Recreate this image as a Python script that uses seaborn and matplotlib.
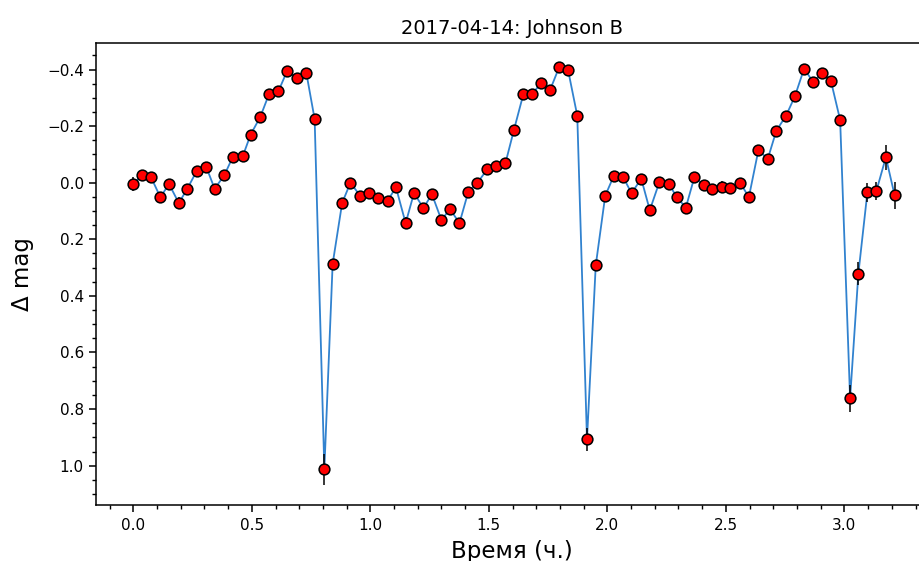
import numpy as np
import pandas as pd
import matplotlib
matplotlib.use("Agg")
import matplotlib.pyplot as plt
import seaborn as sns
from matplotlib.ticker import MultipleLocator

# ---- data ----
time_h = [0.000, 0.038, 0.075, 0.114, 0.151, 0.192, 0.228, 0.268, 0.308, 0.343,
          0.384, 0.419, 0.462, 0.495, 0.536, 0.573, 0.612, 0.649, 0.689, 0.730,
          0.765, 0.806, 0.841, 0.881, 0.916, 0.957, 0.993, 1.032, 1.073, 1.108,
          1.149, 1.184, 1.224, 1.260, 1.300, 1.336, 1.376, 1.413, 1.452, 1.493,
          1.530, 1.570, 1.606, 1.646, 1.682, 1.722, 1.758, 1.797, 1.834, 1.873,
          1.914, 1.951, 1.991, 2.026, 2.067, 2.102, 2.143, 2.179, 2.219, 2.259,
          2.293, 2.331, 2.367, 2.406, 2.443, 2.482, 2.519, 2.560, 2.597, 2.637,
          2.677, 2.713, 2.754, 2.791, 2.830, 2.868, 2.907, 2.943, 2.982, 3.024,
          3.059, 3.097, 3.135, 3.175, 3.212]

dmag = [0.005, -0.027, -0.019, 0.051, 0.005, 0.072, 0.021, -0.042, -0.055, 0.021,
        -0.026, -0.090, -0.094, -0.170, -0.233, -0.314, -0.323, -0.395, -0.369, -0.388,
        -0.225, 1.013, 0.287, 0.072, 0.000, 0.046, 0.038, 0.055, 0.064, 0.016,
        0.143, 0.037, 0.089, 0.041, 0.132, 0.093, 0.143, 0.033, 0.000, -0.047,
        -0.060, -0.069, -0.187, -0.314, -0.314, -0.352, -0.327, -0.409, -0.399, -0.237,
        0.907, 0.292, 0.046, -0.022, -0.019, 0.037, -0.014, 0.097, -0.001, 0.004,
        0.051, 0.088, -0.019, 0.007, 0.021, 0.016, 0.020, 0.000, 0.051, -0.114,
        -0.085, -0.184, -0.237, -0.305, -0.403, -0.356, -0.387, -0.360, -0.222, 0.762,
        0.321, 0.034, 0.029, -0.090, 0.045]

dmag_err = [0.025, 0.015, 0.015, 0.018, 0.015, 0.022, 0.015, 0.015, 0.015, 0.015,
            0.015, 0.015, 0.015, 0.015, 0.015, 0.015, 0.015, 0.015, 0.015, 0.015,
            0.015, 0.055, 0.018, 0.015, 0.015, 0.015, 0.015, 0.015, 0.015, 0.015,
            0.022, 0.015, 0.015, 0.015, 0.015, 0.015, 0.020, 0.015, 0.015, 0.015,
            0.015, 0.015, 0.015, 0.015, 0.015, 0.015, 0.015, 0.015, 0.015, 0.015,
            0.040, 0.018, 0.015, 0.015, 0.015, 0.015, 0.015, 0.015, 0.015, 0.015,
            0.015, 0.015, 0.015, 0.015, 0.015, 0.022, 0.015, 0.018, 0.015, 0.015,
            0.015, 0.015, 0.015, 0.015, 0.015, 0.015, 0.015, 0.015, 0.015, 0.047,
            0.040, 0.034, 0.033, 0.044, 0.048]

title = "2017-04-14: Johnson B"
xlabel = "Время (ч.)"
ylabel = "Δ mag"

df = pd.DataFrame({"t": time_h, "dmag": dmag, "err": dmag_err})

fig = plt.figure(figsize=(9.2, 5.61), dpi=100)
ax = fig.add_axes([0.1047, 0.0993, 0.9033, 0.8235])

sns.lineplot(data=df, x="t", y="dmag", ax=ax, color="#3182cf", linewidth=1.3,
             sort=False, estimator=None, zorder=1)
ax.errorbar(df["t"], df["dmag"], yerr=df["err"], fmt="none", ecolor="black",
            elinewidth=1.1, zorder=2)
sns.scatterplot(data=df, x="t", y="dmag", ax=ax, color="red", edgecolor="black",
                s=60, linewidth=1.1, zorder=3)

ax.set_xlim(-0.156, 3.35)
ax.set_ylim(1.140, -0.4926)
ax.xaxis.set_major_locator(MultipleLocator(0.5))
ax.xaxis.set_minor_locator(MultipleLocator(0.1))
ax.yaxis.set_major_locator(MultipleLocator(0.2))
ax.yaxis.set_minor_locator(MultipleLocator(0.05))
ax.tick_params(which="major", labelsize=11, length=5, width=1.1, pad=4)
ax.tick_params(which="minor", length=2.7, width=1.0)
for s in ax.spines.values():
    s.set_linewidth(1.1)

ax.set_title(title, fontsize=14, pad=7)
ax.set_xlabel(xlabel, fontsize=16.5, labelpad=5)
ax.set_ylabel(ylabel, fontsize=16.5, labelpad=9)

fig.savefig("out.png", dpi=100)
